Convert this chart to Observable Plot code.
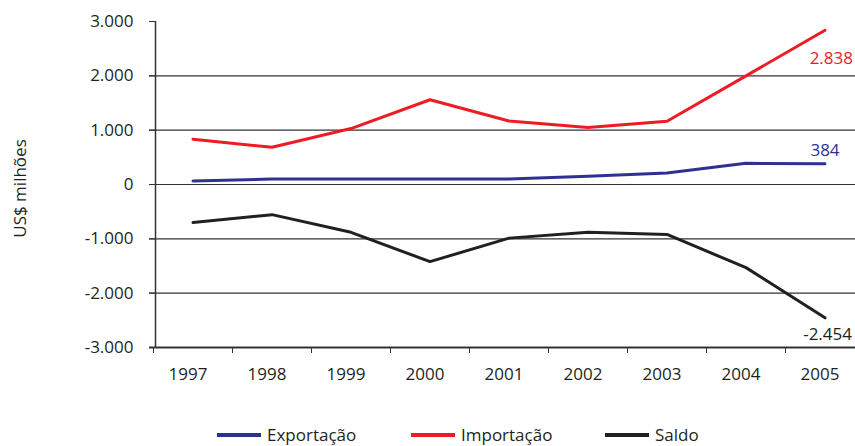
<!DOCTYPE html>
<html><head><meta charset="utf-8">
<script src="https://cdn.jsdelivr.net/npm/d3@7"></script>
<script src="https://cdn.jsdelivr.net/npm/@observablehq/plot@0.6"></script>
<style>
body{margin:0;background:#fff;font-family:"Open Sans",sans-serif;color:#231f20}
#legend{position:relative;height:41px;width:855px;font-size:17px;line-height:20px}
.item{position:absolute;top:20px;display:flex;align-items:center}
.sw{width:44px;height:4px;margin-right:6px}
</style></head><body>
<div id="chart"></div>
<div id="legend"></div>
<script>
const years = [1997,1998,1999,2000,2001,2002,2003,2004,2005];
const exportacao = [65,100,100,100,100,150,210,390,384];
const importacao = [833,685,1030,1560,1170,1050,1165,2000,2838];
const saldo = [-700,-555,-880,-1420,-987,-880,-920,-1530,-2454];
const yTicks = [-3000,-2000,-1000,0,1000,2000,3000];
const gridValues = [-2000,-1000,0,1000,2000];
const seriesNames = ["Exportação","Importação","Saldo"];
const seriesColors = ["#2e3192","#ed1c24","#231f20"];

const seriesValues = [exportacao, importacao, saldo];
const rows = seriesNames.flatMap((s,i)=>years.map((y,j)=>({serie:s,year:y,value:seriesValues[i][j]})));
const boundaries = [...years.map(y=>y-0.5), years[years.length-1]+0.5];
const loc = d3.formatLocale({decimal:",",thousands:".",grouping:[3],currency:["",""],minus:"-"});
const fmt = loc.format(",");
const last = seriesNames.map((s,i)=>({serie:s,year:years[years.length-1],value:seriesValues[i][years.length-1]}));

const chart = Plot.plot({
  width:855, height:405,
  marginLeft:155, marginRight:0, marginTop:21, marginBottom:58,
  style:{fontFamily:"Open Sans, sans-serif", fontSize:"17px", color:"#231f20", background:"#fff"},
  x:{domain:[boundaries[0], boundaries[boundaries.length-1]], range:[153,864]},
  y:{domain:[-3000,3000]},
  color:{domain:seriesNames, range:seriesColors},
  marks:[
    Plot.ruleY(gridValues,{stroke:"#333",strokeWidth:1.2, insetLeft:-6}),
    Plot.ruleY([-3000],{stroke:"#333",strokeWidth:2, insetLeft:-6}),
    Plot.ruleX([boundaries[0]],{y1:-3000,y2:3000,stroke:"#333",strokeWidth:1.5,dx:2}),
    Plot.axisY({ticks:yTicks, tickSize:6, tickPadding:16, tickFormat:fmt, label:null, stroke:"#333", fontSize:17}),
    Plot.axisX({ticks:boundaries, tickSize:6, tickFormat:()=>"", label:null, stroke:"#333"}),
    Plot.axisX({ticks:years, tickSize:0, tickPadding:20, tickFormat:d=>String(d), dx:-5, label:null, fontSize:17}),
    Plot.lineY(rows,{x:"year",y:"value",stroke:"serie",strokeWidth:3}),
    Plot.text(last.filter(d=>d.serie==="Importação"),{x:"year",y:"value",text:d=>fmt(d.value),fill:"serie",textAnchor:"end",dx:28,dy:28,fontSize:17}),
    Plot.text(last.filter(d=>d.serie==="Exportação"),{x:"year",y:"value",text:d=>fmt(d.value),fill:"serie",textAnchor:"middle",dx:0,dy:-13,fontSize:17}),
    Plot.text(last.filter(d=>d.serie==="Saldo"),{x:"year",y:"value",text:d=>fmt(d.value),fill:"serie",textAnchor:"end",dx:27,dy:17,fontSize:17}),
    Plot.text(["US$ milhões"],{frameAnchor:"left",textAnchor:"middle",text:d=>d,rotate:-90,dx:-135,dy:4,fontSize:17,fill:"#231f20"})
  ]
});
document.getElementById("chart").append(chart);

const lg = document.getElementById("legend");
seriesNames.forEach((s,i)=>{
  const it = document.createElement("div");
  it.className="item";
  it.style.left = (217 + i*194) + "px";
  const sw = document.createElement("span");
  sw.className="sw"; sw.style.background = seriesColors[i];
  const t = document.createElement("span"); t.textContent = s;
  it.append(sw,t); lg.append(it);
});
</script></body></html>
